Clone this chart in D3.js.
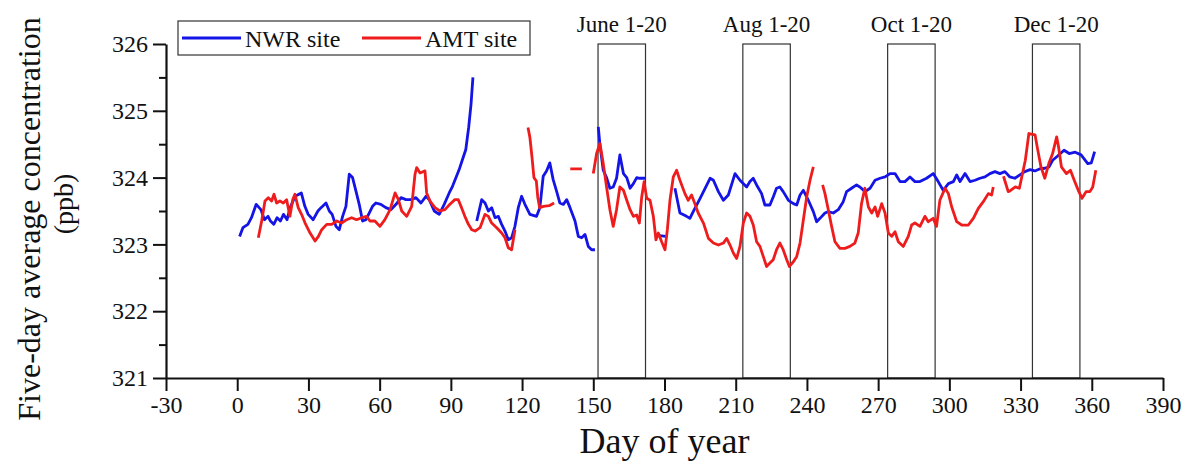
<!DOCTYPE html>
<html>
<head>
<meta charset="utf-8">
<script src="https://cdn.jsdelivr.net/npm/d3@7"></script>
<style>
  body { margin: 0; background: #fff; }
  svg { display: block; }
  text { font-family: "Liberation Serif", "Times New Roman", serif; fill: #111; }
</style>
</head>
<body>
<script>
// five-day average concentration (ppb) by day of year; null = gap in record
const nwrSite = [
  [1,323.12],[2.4,323.25],[4.5,323.3],[6,323.4],[8,323.6],[10,323.52],[11.5,323.37],[13,323.42],[14,323.35],
  [15.4,323.3],[16.8,323.4],[18.2,323.35],[19.5,323.45],[21,323.37],[22.3,323.55],[24.4,323.72],[27,323.77],
  [28.5,323.57],[29.9,323.45],[32,323.37],[34,323.5],[35.3,323.55],[37.4,323.62],[38.8,323.5],[40,323.45],
  [41.6,323.27],[43,323.22],[44.4,323.42],[45.8,323.57],[47.2,324.05],[48.6,324.0],[50,323.8],[51.4,323.6],
  [52.8,323.35],[54.2,323.37],[55.6,323.47],[57,323.57],[58.4,323.62],[60.5,323.6],[62.6,323.55],[64.8,323.52],
  [66.9,323.6],[69,323.7],[71.1,323.67],[73.2,323.67],[75.3,323.7],[77.4,323.62],[79.5,323.72],[80.9,323.67],
  [83,323.5],[85.1,323.45],[87.2,323.6],[89.3,323.77],[90.7,323.87],[93.5,324.12],[94.9,324.27],[96.3,324.42],
  [97.5,324.75],[98.5,325.1],[99.3,325.5],
  null,
  [100.9,323.35],[103,323.67],[104.4,323.62],[105.8,323.5],[107.2,323.55],[108.6,323.4],[110,323.42],[111.4,323.3],
  [112.8,323.2],[114.2,323.07],[115.6,323.1],[117,323.27],[118.4,323.55],[119.8,323.72],[121.2,323.6],[123.3,323.45],
  [126.1,323.42],[127.5,323.55],[128.9,324.02],[130.3,324.1],[131.7,324.22],[133.1,323.97],[134.5,323.8],
  [135.9,323.62],[137.4,323.6],[138.8,323.67],[140.2,323.55],[142.3,323.35],[143.7,323.12],[145.1,323.1],
  [146.5,323.15],[147.9,322.97],[149.3,322.92],[150.7,322.92],
  null,
  [152.1,324.76],[152.8,324.49],[154.2,324.11],[155.6,324.0],[157,323.84],[158.4,323.86],[159.8,323.99],
  [161.2,324.34],[162.7,324.06],[164.1,324.0],[165.5,323.84],[166.9,323.91],[168.3,324.0],[169.5,323.99],[171.8,323.99],
  null,
  [176.5,323.15],[178,323.13],[180.5,323.12],
  null,
  [184.4,323.84],[186.5,323.47],[189.3,323.42],[190.7,323.39],[192.1,323.49],[195,323.69],[197.1,323.84],
  [199.2,323.99],[200.6,323.96],[202.7,323.79],[204.8,323.66],[206.9,323.74],[209.7,324.06],[211.8,323.96],
  [214.6,323.86],[216,323.94],[217.4,323.99],[218.8,323.89],[220.9,323.76],[222.3,323.59],[224.4,323.59],
  [225.8,323.71],[227.2,323.84],[228.6,323.86],[230,323.79],[232.2,323.66],[234.3,323.61],[235.7,323.59],
  [237.1,323.74],[238.5,323.81],[240.6,323.66],[242.7,323.49],[244.1,323.34],[245.5,323.39],[247.6,323.47],
  [249,323.49],[251.1,323.47],[253.2,323.52],[255.3,323.64],[256.7,323.79],[258.8,323.84],[260.9,323.89],
  [262.3,323.86],[264.5,323.79],[266.6,323.84],[268.7,323.96],[270.8,323.99],[272.9,324.01],[275,324.06],
  [277.1,324.06],[279.2,323.94],[281.3,323.94],[283.4,324.01],[285.5,323.94],[287.6,323.94],[290.4,323.99],
  [293.2,324.06],[295.3,323.94],[297.4,323.81],[299.6,323.91],[301.7,323.94],[303.1,324.04],[304.5,323.94],
  [306.6,324.06],[308.7,323.94],[310.8,323.96],[312.9,323.99],[315,324.01],[317.1,324.06],[319.2,324.09],
  [321.3,324.06],[323.4,324.09],[325.5,324.01],[327.6,323.99],[329.7,324.04],[331.8,324.09],[334,324.12],
  [336,324.1],[338,324.13],[340.2,324.14],[342,324.16],[343.5,324.26],[345.5,324.32],[348.3,324.41],
  [350.5,324.36],[353,324.38],[355.5,324.34],[358.3,324.21],[359.8,324.22],[361.2,324.39]
];

const amtSite = [
  [8.9,323.1],[10.3,323.35],[11.7,323.65],[13.1,323.7],[14.5,323.65],[15.5,323.75],[16.6,323.62],[18,323.65],
  [19.4,323.62],[20.8,323.67],[22.2,323.42],[23.4,323.67],[24.3,323.75],[25.7,323.55],[27.1,323.45],[28.6,323.32],
  [30.7,323.17],[32.8,323.05],[34.2,323.12],[35.6,323.22],[37.7,323.3],[39.8,323.3],[41.9,323.35],[44,323.32],
  [46.1,323.37],[48.2,323.4],[50.3,323.37],[52.4,323.4],[54.5,323.42],[55.9,323.35],[58,323.35],[60.1,323.27],
  [62.2,323.37],[64.4,323.52],[66.5,323.77],[67.9,323.67],[69.3,323.5],[71.4,323.42],[73.5,323.57],[74.9,324.05],
  [75.6,324.15],[77,324.07],[79.1,324.1],[79.8,323.77],[81.2,323.65],[83.3,323.55],[85.4,323.5],[87.5,323.52],
  [89.6,323.6],[91.7,323.67],[93.1,323.67],[94.5,323.55],[95.9,323.42],[97.4,323.3],[98.8,323.22],[100.2,323.2],
  [102.3,323.25],[104.4,323.45],[105.8,323.42],[107.2,323.32],[109.3,323.25],[111.4,323.17],[112.8,323.1],
  [114.2,322.95],[115.6,322.92],[117,323.22],
  null,
  [122.5,324.75],[123.3,324.6],[124.2,324.3],[125,324.0],[126,323.95],[126.6,323.71],[127.4,323.55],[129,323.57],
  [131.4,323.58],[133.5,323.62],
  null,
  [140.3,324.13],[145.2,324.13],
  null,
  [150,324.06],[151.4,324.36],[152.8,324.51],[154.2,324.21],[155.6,323.86],[157,323.52],[158.4,323.27],
  [159.8,323.52],[161.2,323.86],[162.7,323.81],[164.1,323.66],[165.5,323.52],[166.9,323.42],[168.3,323.44],
  [169.4,323.32],[170.4,323.71],[171.4,323.94],[172.5,323.69],[173.9,323.66],[175.3,323.42],[176.4,323.07],
  [177.4,323.17],[178.8,323.04],[180.2,322.92],[181.2,323.22],[182.3,323.66],[183.7,324.01],[185.1,324.11],
  [186.5,323.96],[188.6,323.76],[190,323.66],[191.4,323.74],[192.8,323.61],[194.2,323.47],[196.4,323.32],
  [198.5,323.09],[200.6,323.02],[202.7,322.99],[204.8,323.02],[206.2,323.09],[207.6,322.99],[209,322.87],
  [210.4,322.79],[211.8,322.97],[213.2,323.32],[214.6,323.47],[216,323.42],[217.4,323.29],[218.8,323.04],
  [220.2,322.97],[221.6,322.82],[223,322.67],[224.4,322.72],[225.8,322.77],[227.2,322.92],[228.6,323.02],
  [230,322.92],[231.5,322.77],[232.6,322.67],[234.3,322.74],[235.7,322.82],[237.1,323.02],[238.5,323.37],
  [239.9,323.71],[241.3,323.96],[242.7,324.16],
  null,
  [246.6,323.89],[247.6,323.76],[249,323.52],[250.4,323.27],[251.8,323.04],[253.9,322.94],[256,322.94],
  [258.1,322.97],[260.2,323.02],[261.6,323.17],[263,323.61],[264.4,323.84],[265.9,323.56],[267.3,323.47],
  [268.7,323.56],[269.8,323.42],[271.5,323.61],[272.9,323.47],[274.3,323.17],[275.7,323.12],[277.1,323.19],
  [278.5,323.04],[280.6,322.97],[282.7,323.12],[284.1,323.29],[285.5,323.32],[287.6,323.27],[289.7,323.42],
  [291.1,323.34],[293.2,323.39],[294.6,323.27],[296,323.66],[298.2,323.84],[299.6,323.76],[301,323.56],
  [303.1,323.34],[305.2,323.29],[308,323.29],[310.1,323.39],[312.2,323.54],[314.3,323.64],[316.4,323.76],
  [317.8,323.74],[318.5,323.86],
  null,
  [322.8,324.02],[324.8,323.79],[325.5,323.8],[327.8,323.86],[329.5,323.84],[332,324.26],[333.5,324.66],
  [336.1,324.64],[337,324.46],[338.6,324.16],[340.2,323.99],[341.9,324.21],[343.5,324.36],[345.2,324.61],
  [346,324.46],[347.2,324.16],[349.3,324.06],[351,324.11],[352.6,323.96],[354.3,323.81],[355.9,323.69],
  [357.6,323.79],[359.2,323.79],[360.4,323.86],[361.7,324.11]
];

// sampling windows (day of year)
const windowLabels = ["June 1-20", "Aug 1-20", "Oct 1-20", "Dec 1-20"];
const windowStart = [152, 213, 274, 335];
const windowEnd = [172, 233, 294, 355];

const xTicks = d3.range(-30, 391, 30);
const yTicks = [321, 322, 323, 324, 325, 326];
const yMinor = [321.5, 322.5, 323.5, 324.5, 325.5];

const w = 1192, h = 467;
const mLeft = 166, mRight = 1163, mTop = 44, mBottom = 378;
const serif = '"Liberation Serif", "Times New Roman", serif';

const svg = d3.select("body").append("svg")
  .attr("width", w)
  .attr("height", h);

svg.append("rect").attr("width", w).attr("height", h).attr("fill", "#fff");

const x = d3.scaleLinear().domain([-30, 390]).range([mLeft, mRight]);
const y = d3.scaleLinear().domain([321, 326]).range([mBottom, mTop]);

// window boxes
const boxes = svg.append("g");
windowLabels.forEach((lab, i) => {
  boxes.append("rect")
    .attr("x", x(windowStart[i]))
    .attr("y", y(326))
    .attr("width", x(windowEnd[i]) - x(windowStart[i]))
    .attr("height", y(321) - y(326))
    .attr("fill", "none")
    .attr("stroke", "#333")
    .attr("stroke-width", 1.2);
  boxes.append("text")
    .attr("x", (x(windowStart[i]) + x(windowEnd[i])) / 2)
    .attr("y", 32)
    .attr("text-anchor", "middle")
    .style("font-size", "23px")
    .text(lab);
});

const line = d3.line()
  .defined(d => d !== null)
  .x(d => x(d[0]))
  .y(d => y(d[1]));

svg.append("path").datum(nwrSite)
  .attr("d", line)
  .attr("fill", "none")
  .attr("stroke", "#1414e6")
  .attr("stroke-width", 2.8)
  .attr("stroke-linejoin", "round");

svg.append("path").datum(amtSite)
  .attr("d", line)
  .attr("fill", "none")
  .attr("stroke", "#ee1c1c")
  .attr("stroke-width", 2.8)
  .attr("stroke-linejoin", "round");

// axes
const xAxis = d3.axisBottom(x).tickValues(xTicks).tickSize(13).tickSizeOuter(0).tickPadding(5)
  .tickFormat(d => String(d));
const yAxis = d3.axisLeft(y).tickValues(yTicks).tickSize(13).tickSizeOuter(0).tickPadding(5)
  .tickFormat(d => String(d));

const gx = svg.append("g")
  .attr("transform", "translate(0," + mBottom + ")")
  .call(xAxis);
const gy = svg.append("g")
  .attr("transform", "translate(" + mLeft + ",0)")
  .call(yAxis);
svg.append("g")
  .attr("transform", "translate(" + mLeft + ",0)")
  .call(d3.axisLeft(y).tickValues(yMinor).tickSize(7).tickSizeOuter(0).tickFormat(""))
  .select(".domain").remove();

[gx, gy].forEach(g => {
  g.attr("font-family", serif).attr("font-size", 24);
  g.select(".domain").attr("stroke", "#111").attr("stroke-width", 2.2);
  g.selectAll(".tick text")
    .attr("fill", "#111")
    .style("font-family", serif);
});
svg.selectAll(".tick line").attr("stroke", "#111").attr("stroke-width", 2);

// axis titles
svg.append("text")
  .attr("x", (mLeft + mRight) / 2)
  .attr("y", 453)
  .attr("text-anchor", "middle")
  .style("font-size", "36px")
  .text("Day of year");

svg.append("text")
  .attr("transform", "translate(40," + 219 + ") rotate(-90)")
  .attr("text-anchor", "middle")
  .style("font-size", "32px")
  .text("Five-day average concentration");
svg.append("text")
  .attr("transform", "translate(73," + 204 + ") rotate(-90)")
  .attr("text-anchor", "middle")
  .style("font-size", "28px")
  .text("(ppb)");

// legend
const lg = svg.append("g");
lg.append("rect")
  .attr("x", 178).attr("y", 21)
  .attr("width", 352).attr("height", 34)
  .attr("fill", "#fff")
  .attr("stroke", "#333")
  .attr("stroke-width", 1.2);
const legendItems = [
  { name: "NWR site", color: "#1414e6", x0: 182 },
  { name: "AMT site", color: "#ee1c1c", x0: 362 }
];
legendItems.forEach(it => {
  lg.append("line")
    .attr("x1", it.x0).attr("x2", it.x0 + 59)
    .attr("y1", 38).attr("y2", 38)
    .attr("stroke", it.color)
    .attr("stroke-width", 2.8);
  lg.append("text")
    .attr("x", it.x0 + 63)
    .attr("y", 47)
    .style("font-size", "24px")
    .text(it.name);
});
</script>
</body>
</html>
